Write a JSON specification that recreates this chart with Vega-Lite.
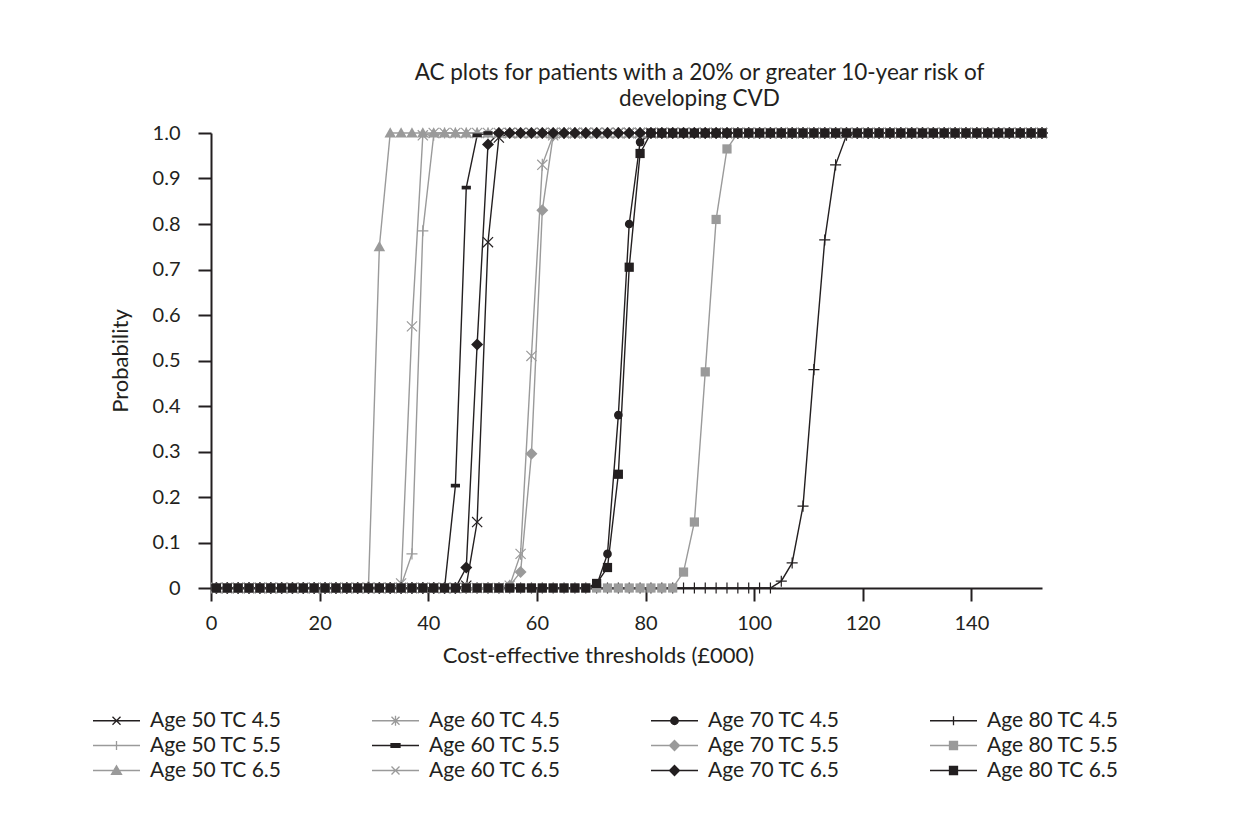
{
  "$schema": "https://vega.github.io/schema/vega-lite/v6.json",
  "autosize": "none",
  "width": 831,
  "height": 455,
  "padding": {"left": 211, "top": 133, "right": 217, "bottom": 229},
  "background": "white",
  "title": {
    "text": ["AC plots for patients with a 20% or greater 10-year risk of", "developing CVD"],
    "fontSize": 22.5,
    "fontWeight": "normal",
    "font": "Lato",
    "color": "#231f20",
    "anchor": "middle",
    "dx": 73,
    "offset": 13,
    "lineHeight": 26
  },
  "config": {
    "font": "Lato",
    "view": {"stroke": null},
    "axis": {
      "domainColor": "#231f20",
      "domainWidth": 2,
      "tickColor": "#231f20",
      "tickWidth": 2,
      "tickSize": 13,
      "grid": false,
      "labelFont": "Lato",
      "labelFontSize": 20,
      "labelColor": "#231f20",
      "titleFont": "Lato",
      "titleFontSize": 22,
      "titleFontWeight": "normal",
      "titleColor": "#231f20"
    },
    "legend": {
      "labelFont": "Lato",
      "labelFontSize": 21,
      "labelColor": "#231f20"
    }
  },
  "data": {
    "values": [
{"s":1,"x":1,"y":0},{"s":1,"x":3,"y":0},{"s":1,"x":5,"y":0},{"s":1,"x":7,"y":0},{"s":1,"x":9,"y":0},{"s":1,"x":11,"y":0},{"s":1,"x":13,"y":0},{"s":1,"x":15,"y":0},{"s":1,"x":17,"y":0},{"s":1,"x":19,"y":0},{"s":1,"x":21,"y":0},{"s":1,"x":23,"y":0},{"s":1,"x":25,"y":0},{"s":1,"x":27,"y":0},{"s":1,"x":29,"y":0},{"s":1,"x":31,"y":0},{"s":1,"x":33,"y":0},{"s":1,"x":35,"y":0},{"s":1,"x":37,"y":0},{"s":1,"x":39,"y":0},{"s":1,"x":41,"y":0},{"s":1,"x":43,"y":0},{"s":1,"x":45,"y":0},{"s":1,"x":47,"y":0.005},{"s":1,"x":49,"y":0.145},{"s":1,"x":51,"y":0.76},{"s":1,"x":53,"y":0.99},{"s":1,"x":55,"y":1},{"s":1,"x":57,"y":1},{"s":1,"x":59,"y":1},{"s":1,"x":61,"y":1},{"s":1,"x":63,"y":1},{"s":1,"x":65,"y":1},{"s":1,"x":67,"y":1},{"s":1,"x":69,"y":1},{"s":1,"x":71,"y":1},{"s":1,"x":73,"y":1},{"s":1,"x":75,"y":1},{"s":1,"x":77,"y":1},{"s":1,"x":79,"y":1},{"s":1,"x":81,"y":1},{"s":1,"x":83,"y":1},{"s":1,"x":85,"y":1},{"s":1,"x":87,"y":1},{"s":1,"x":89,"y":1},{"s":1,"x":91,"y":1},{"s":1,"x":93,"y":1},{"s":1,"x":95,"y":1},{"s":1,"x":97,"y":1},{"s":1,"x":99,"y":1},{"s":1,"x":101,"y":1},{"s":1,"x":103,"y":1},{"s":1,"x":105,"y":1},{"s":1,"x":107,"y":1},{"s":1,"x":109,"y":1},{"s":1,"x":111,"y":1},{"s":1,"x":113,"y":1},{"s":1,"x":115,"y":1},{"s":1,"x":117,"y":1},{"s":1,"x":119,"y":1},{"s":1,"x":121,"y":1},{"s":1,"x":123,"y":1},{"s":1,"x":125,"y":1},{"s":1,"x":127,"y":1},{"s":1,"x":129,"y":1},{"s":1,"x":131,"y":1},{"s":1,"x":133,"y":1},{"s":1,"x":135,"y":1},{"s":1,"x":137,"y":1},{"s":1,"x":139,"y":1},{"s":1,"x":141,"y":1},{"s":1,"x":143,"y":1},{"s":1,"x":145,"y":1},{"s":1,"x":147,"y":1},{"s":1,"x":149,"y":1},{"s":1,"x":151,"y":1},{"s":1,"x":153,"y":1},
{"s":2,"x":1,"y":0},{"s":2,"x":3,"y":0},{"s":2,"x":5,"y":0},{"s":2,"x":7,"y":0},{"s":2,"x":9,"y":0},{"s":2,"x":11,"y":0},{"s":2,"x":13,"y":0},{"s":2,"x":15,"y":0},{"s":2,"x":17,"y":0},{"s":2,"x":19,"y":0},{"s":2,"x":21,"y":0},{"s":2,"x":23,"y":0},{"s":2,"x":25,"y":0},{"s":2,"x":27,"y":0},{"s":2,"x":29,"y":0},{"s":2,"x":31,"y":0},{"s":2,"x":33,"y":0},{"s":2,"x":35,"y":0.005},{"s":2,"x":37,"y":0.075},{"s":2,"x":39,"y":0.785},{"s":2,"x":41,"y":0.995},{"s":2,"x":43,"y":1},{"s":2,"x":45,"y":1},{"s":2,"x":47,"y":1},{"s":2,"x":49,"y":1},{"s":2,"x":51,"y":1},{"s":2,"x":53,"y":1},{"s":2,"x":55,"y":1},{"s":2,"x":57,"y":1},{"s":2,"x":59,"y":1},{"s":2,"x":61,"y":1},{"s":2,"x":63,"y":1},{"s":2,"x":65,"y":1},{"s":2,"x":67,"y":1},{"s":2,"x":69,"y":1},{"s":2,"x":71,"y":1},{"s":2,"x":73,"y":1},{"s":2,"x":75,"y":1},{"s":2,"x":77,"y":1},{"s":2,"x":79,"y":1},{"s":2,"x":81,"y":1},{"s":2,"x":83,"y":1},{"s":2,"x":85,"y":1},{"s":2,"x":87,"y":1},{"s":2,"x":89,"y":1},{"s":2,"x":91,"y":1},{"s":2,"x":93,"y":1},{"s":2,"x":95,"y":1},{"s":2,"x":97,"y":1},{"s":2,"x":99,"y":1},{"s":2,"x":101,"y":1},{"s":2,"x":103,"y":1},{"s":2,"x":105,"y":1},{"s":2,"x":107,"y":1},{"s":2,"x":109,"y":1},{"s":2,"x":111,"y":1},{"s":2,"x":113,"y":1},{"s":2,"x":115,"y":1},{"s":2,"x":117,"y":1},{"s":2,"x":119,"y":1},{"s":2,"x":121,"y":1},{"s":2,"x":123,"y":1},{"s":2,"x":125,"y":1},{"s":2,"x":127,"y":1},{"s":2,"x":129,"y":1},{"s":2,"x":131,"y":1},{"s":2,"x":133,"y":1},{"s":2,"x":135,"y":1},{"s":2,"x":137,"y":1},{"s":2,"x":139,"y":1},{"s":2,"x":141,"y":1},{"s":2,"x":143,"y":1},{"s":2,"x":145,"y":1},{"s":2,"x":147,"y":1},{"s":2,"x":149,"y":1},{"s":2,"x":151,"y":1},{"s":2,"x":153,"y":1},
{"s":3,"x":1,"y":0},{"s":3,"x":3,"y":0},{"s":3,"x":5,"y":0},{"s":3,"x":7,"y":0},{"s":3,"x":9,"y":0},{"s":3,"x":11,"y":0},{"s":3,"x":13,"y":0},{"s":3,"x":15,"y":0},{"s":3,"x":17,"y":0},{"s":3,"x":19,"y":0},{"s":3,"x":21,"y":0},{"s":3,"x":23,"y":0},{"s":3,"x":25,"y":0},{"s":3,"x":27,"y":0},{"s":3,"x":29,"y":0.005},{"s":3,"x":31,"y":0.75},{"s":3,"x":33,"y":1},{"s":3,"x":35,"y":1},{"s":3,"x":37,"y":1},{"s":3,"x":39,"y":1},{"s":3,"x":41,"y":1},{"s":3,"x":43,"y":1},{"s":3,"x":45,"y":1},{"s":3,"x":47,"y":1},{"s":3,"x":49,"y":1},{"s":3,"x":51,"y":1},{"s":3,"x":53,"y":1},{"s":3,"x":55,"y":1},{"s":3,"x":57,"y":1},{"s":3,"x":59,"y":1},{"s":3,"x":61,"y":1},{"s":3,"x":63,"y":1},{"s":3,"x":65,"y":1},{"s":3,"x":67,"y":1},{"s":3,"x":69,"y":1},{"s":3,"x":71,"y":1},{"s":3,"x":73,"y":1},{"s":3,"x":75,"y":1},{"s":3,"x":77,"y":1},{"s":3,"x":79,"y":1},{"s":3,"x":81,"y":1},{"s":3,"x":83,"y":1},{"s":3,"x":85,"y":1},{"s":3,"x":87,"y":1},{"s":3,"x":89,"y":1},{"s":3,"x":91,"y":1},{"s":3,"x":93,"y":1},{"s":3,"x":95,"y":1},{"s":3,"x":97,"y":1},{"s":3,"x":99,"y":1},{"s":3,"x":101,"y":1},{"s":3,"x":103,"y":1},{"s":3,"x":105,"y":1},{"s":3,"x":107,"y":1},{"s":3,"x":109,"y":1},{"s":3,"x":111,"y":1},{"s":3,"x":113,"y":1},{"s":3,"x":115,"y":1},{"s":3,"x":117,"y":1},{"s":3,"x":119,"y":1},{"s":3,"x":121,"y":1},{"s":3,"x":123,"y":1},{"s":3,"x":125,"y":1},{"s":3,"x":127,"y":1},{"s":3,"x":129,"y":1},{"s":3,"x":131,"y":1},{"s":3,"x":133,"y":1},{"s":3,"x":135,"y":1},{"s":3,"x":137,"y":1},{"s":3,"x":139,"y":1},{"s":3,"x":141,"y":1},{"s":3,"x":143,"y":1},{"s":3,"x":145,"y":1},{"s":3,"x":147,"y":1},{"s":3,"x":149,"y":1},{"s":3,"x":151,"y":1},{"s":3,"x":153,"y":1},
{"s":4,"x":1,"y":0},{"s":4,"x":3,"y":0},{"s":4,"x":5,"y":0},{"s":4,"x":7,"y":0},{"s":4,"x":9,"y":0},{"s":4,"x":11,"y":0},{"s":4,"x":13,"y":0},{"s":4,"x":15,"y":0},{"s":4,"x":17,"y":0},{"s":4,"x":19,"y":0},{"s":4,"x":21,"y":0},{"s":4,"x":23,"y":0},{"s":4,"x":25,"y":0},{"s":4,"x":27,"y":0},{"s":4,"x":29,"y":0},{"s":4,"x":31,"y":0},{"s":4,"x":33,"y":0},{"s":4,"x":35,"y":0},{"s":4,"x":37,"y":0},{"s":4,"x":39,"y":0},{"s":4,"x":41,"y":0},{"s":4,"x":43,"y":0},{"s":4,"x":45,"y":0},{"s":4,"x":47,"y":0},{"s":4,"x":49,"y":0},{"s":4,"x":51,"y":0},{"s":4,"x":53,"y":0},{"s":4,"x":55,"y":0.005},{"s":4,"x":57,"y":0.075},{"s":4,"x":59,"y":0.51},{"s":4,"x":61,"y":0.93},{"s":4,"x":63,"y":0.995},{"s":4,"x":65,"y":1},{"s":4,"x":67,"y":1},{"s":4,"x":69,"y":1},{"s":4,"x":71,"y":1},{"s":4,"x":73,"y":1},{"s":4,"x":75,"y":1},{"s":4,"x":77,"y":1},{"s":4,"x":79,"y":1},{"s":4,"x":81,"y":1},{"s":4,"x":83,"y":1},{"s":4,"x":85,"y":1},{"s":4,"x":87,"y":1},{"s":4,"x":89,"y":1},{"s":4,"x":91,"y":1},{"s":4,"x":93,"y":1},{"s":4,"x":95,"y":1},{"s":4,"x":97,"y":1},{"s":4,"x":99,"y":1},{"s":4,"x":101,"y":1},{"s":4,"x":103,"y":1},{"s":4,"x":105,"y":1},{"s":4,"x":107,"y":1},{"s":4,"x":109,"y":1},{"s":4,"x":111,"y":1},{"s":4,"x":113,"y":1},{"s":4,"x":115,"y":1},{"s":4,"x":117,"y":1},{"s":4,"x":119,"y":1},{"s":4,"x":121,"y":1},{"s":4,"x":123,"y":1},{"s":4,"x":125,"y":1},{"s":4,"x":127,"y":1},{"s":4,"x":129,"y":1},{"s":4,"x":131,"y":1},{"s":4,"x":133,"y":1},{"s":4,"x":135,"y":1},{"s":4,"x":137,"y":1},{"s":4,"x":139,"y":1},{"s":4,"x":141,"y":1},{"s":4,"x":143,"y":1},{"s":4,"x":145,"y":1},{"s":4,"x":147,"y":1},{"s":4,"x":149,"y":1},{"s":4,"x":151,"y":1},{"s":4,"x":153,"y":1},
{"s":5,"x":1,"y":0},{"s":5,"x":3,"y":0},{"s":5,"x":5,"y":0},{"s":5,"x":7,"y":0},{"s":5,"x":9,"y":0},{"s":5,"x":11,"y":0},{"s":5,"x":13,"y":0},{"s":5,"x":15,"y":0},{"s":5,"x":17,"y":0},{"s":5,"x":19,"y":0},{"s":5,"x":21,"y":0},{"s":5,"x":23,"y":0},{"s":5,"x":25,"y":0},{"s":5,"x":27,"y":0},{"s":5,"x":29,"y":0},{"s":5,"x":31,"y":0},{"s":5,"x":33,"y":0},{"s":5,"x":35,"y":0},{"s":5,"x":37,"y":0},{"s":5,"x":39,"y":0},{"s":5,"x":41,"y":0},{"s":5,"x":43,"y":0},{"s":5,"x":45,"y":0.225},{"s":5,"x":47,"y":0.88},{"s":5,"x":49,"y":0.995},{"s":5,"x":51,"y":1},{"s":5,"x":53,"y":1},{"s":5,"x":55,"y":1},{"s":5,"x":57,"y":1},{"s":5,"x":59,"y":1},{"s":5,"x":61,"y":1},{"s":5,"x":63,"y":1},{"s":5,"x":65,"y":1},{"s":5,"x":67,"y":1},{"s":5,"x":69,"y":1},{"s":5,"x":71,"y":1},{"s":5,"x":73,"y":1},{"s":5,"x":75,"y":1},{"s":5,"x":77,"y":1},{"s":5,"x":79,"y":1},{"s":5,"x":81,"y":1},{"s":5,"x":83,"y":1},{"s":5,"x":85,"y":1},{"s":5,"x":87,"y":1},{"s":5,"x":89,"y":1},{"s":5,"x":91,"y":1},{"s":5,"x":93,"y":1},{"s":5,"x":95,"y":1},{"s":5,"x":97,"y":1},{"s":5,"x":99,"y":1},{"s":5,"x":101,"y":1},{"s":5,"x":103,"y":1},{"s":5,"x":105,"y":1},{"s":5,"x":107,"y":1},{"s":5,"x":109,"y":1},{"s":5,"x":111,"y":1},{"s":5,"x":113,"y":1},{"s":5,"x":115,"y":1},{"s":5,"x":117,"y":1},{"s":5,"x":119,"y":1},{"s":5,"x":121,"y":1},{"s":5,"x":123,"y":1},{"s":5,"x":125,"y":1},{"s":5,"x":127,"y":1},{"s":5,"x":129,"y":1},{"s":5,"x":131,"y":1},{"s":5,"x":133,"y":1},{"s":5,"x":135,"y":1},{"s":5,"x":137,"y":1},{"s":5,"x":139,"y":1},{"s":5,"x":141,"y":1},{"s":5,"x":143,"y":1},{"s":5,"x":145,"y":1},{"s":5,"x":147,"y":1},{"s":5,"x":149,"y":1},{"s":5,"x":151,"y":1},{"s":5,"x":153,"y":1},
{"s":6,"x":1,"y":0},{"s":6,"x":3,"y":0},{"s":6,"x":5,"y":0},{"s":6,"x":7,"y":0},{"s":6,"x":9,"y":0},{"s":6,"x":11,"y":0},{"s":6,"x":13,"y":0},{"s":6,"x":15,"y":0},{"s":6,"x":17,"y":0},{"s":6,"x":19,"y":0},{"s":6,"x":21,"y":0},{"s":6,"x":23,"y":0},{"s":6,"x":25,"y":0},{"s":6,"x":27,"y":0},{"s":6,"x":29,"y":0},{"s":6,"x":31,"y":0},{"s":6,"x":33,"y":0},{"s":6,"x":35,"y":0.01},{"s":6,"x":37,"y":0.575},{"s":6,"x":39,"y":0.995},{"s":6,"x":41,"y":1},{"s":6,"x":43,"y":1},{"s":6,"x":45,"y":1},{"s":6,"x":47,"y":1},{"s":6,"x":49,"y":1},{"s":6,"x":51,"y":1},{"s":6,"x":53,"y":1},{"s":6,"x":55,"y":1},{"s":6,"x":57,"y":1},{"s":6,"x":59,"y":1},{"s":6,"x":61,"y":1},{"s":6,"x":63,"y":1},{"s":6,"x":65,"y":1},{"s":6,"x":67,"y":1},{"s":6,"x":69,"y":1},{"s":6,"x":71,"y":1},{"s":6,"x":73,"y":1},{"s":6,"x":75,"y":1},{"s":6,"x":77,"y":1},{"s":6,"x":79,"y":1},{"s":6,"x":81,"y":1},{"s":6,"x":83,"y":1},{"s":6,"x":85,"y":1},{"s":6,"x":87,"y":1},{"s":6,"x":89,"y":1},{"s":6,"x":91,"y":1},{"s":6,"x":93,"y":1},{"s":6,"x":95,"y":1},{"s":6,"x":97,"y":1},{"s":6,"x":99,"y":1},{"s":6,"x":101,"y":1},{"s":6,"x":103,"y":1},{"s":6,"x":105,"y":1},{"s":6,"x":107,"y":1},{"s":6,"x":109,"y":1},{"s":6,"x":111,"y":1},{"s":6,"x":113,"y":1},{"s":6,"x":115,"y":1},{"s":6,"x":117,"y":1},{"s":6,"x":119,"y":1},{"s":6,"x":121,"y":1},{"s":6,"x":123,"y":1},{"s":6,"x":125,"y":1},{"s":6,"x":127,"y":1},{"s":6,"x":129,"y":1},{"s":6,"x":131,"y":1},{"s":6,"x":133,"y":1},{"s":6,"x":135,"y":1},{"s":6,"x":137,"y":1},{"s":6,"x":139,"y":1},{"s":6,"x":141,"y":1},{"s":6,"x":143,"y":1},{"s":6,"x":145,"y":1},{"s":6,"x":147,"y":1},{"s":6,"x":149,"y":1},{"s":6,"x":151,"y":1},{"s":6,"x":153,"y":1},
{"s":7,"x":1,"y":0},{"s":7,"x":3,"y":0},{"s":7,"x":5,"y":0},{"s":7,"x":7,"y":0},{"s":7,"x":9,"y":0},{"s":7,"x":11,"y":0},{"s":7,"x":13,"y":0},{"s":7,"x":15,"y":0},{"s":7,"x":17,"y":0},{"s":7,"x":19,"y":0},{"s":7,"x":21,"y":0},{"s":7,"x":23,"y":0},{"s":7,"x":25,"y":0},{"s":7,"x":27,"y":0},{"s":7,"x":29,"y":0},{"s":7,"x":31,"y":0},{"s":7,"x":33,"y":0},{"s":7,"x":35,"y":0},{"s":7,"x":37,"y":0},{"s":7,"x":39,"y":0},{"s":7,"x":41,"y":0},{"s":7,"x":43,"y":0},{"s":7,"x":45,"y":0},{"s":7,"x":47,"y":0},{"s":7,"x":49,"y":0},{"s":7,"x":51,"y":0},{"s":7,"x":53,"y":0},{"s":7,"x":55,"y":0},{"s":7,"x":57,"y":0},{"s":7,"x":59,"y":0},{"s":7,"x":61,"y":0},{"s":7,"x":63,"y":0},{"s":7,"x":65,"y":0},{"s":7,"x":67,"y":0},{"s":7,"x":69,"y":0},{"s":7,"x":71,"y":0.005},{"s":7,"x":73,"y":0.075},{"s":7,"x":75,"y":0.38},{"s":7,"x":77,"y":0.8},{"s":7,"x":79,"y":0.98},{"s":7,"x":81,"y":1},{"s":7,"x":83,"y":1},{"s":7,"x":85,"y":1},{"s":7,"x":87,"y":1},{"s":7,"x":89,"y":1},{"s":7,"x":91,"y":1},{"s":7,"x":93,"y":1},{"s":7,"x":95,"y":1},{"s":7,"x":97,"y":1},{"s":7,"x":99,"y":1},{"s":7,"x":101,"y":1},{"s":7,"x":103,"y":1},{"s":7,"x":105,"y":1},{"s":7,"x":107,"y":1},{"s":7,"x":109,"y":1},{"s":7,"x":111,"y":1},{"s":7,"x":113,"y":1},{"s":7,"x":115,"y":1},{"s":7,"x":117,"y":1},{"s":7,"x":119,"y":1},{"s":7,"x":121,"y":1},{"s":7,"x":123,"y":1},{"s":7,"x":125,"y":1},{"s":7,"x":127,"y":1},{"s":7,"x":129,"y":1},{"s":7,"x":131,"y":1},{"s":7,"x":133,"y":1},{"s":7,"x":135,"y":1},{"s":7,"x":137,"y":1},{"s":7,"x":139,"y":1},{"s":7,"x":141,"y":1},{"s":7,"x":143,"y":1},{"s":7,"x":145,"y":1},{"s":7,"x":147,"y":1},{"s":7,"x":149,"y":1},{"s":7,"x":151,"y":1},{"s":7,"x":153,"y":1},
{"s":8,"x":1,"y":0},{"s":8,"x":3,"y":0},{"s":8,"x":5,"y":0},{"s":8,"x":7,"y":0},{"s":8,"x":9,"y":0},{"s":8,"x":11,"y":0},{"s":8,"x":13,"y":0},{"s":8,"x":15,"y":0},{"s":8,"x":17,"y":0},{"s":8,"x":19,"y":0},{"s":8,"x":21,"y":0},{"s":8,"x":23,"y":0},{"s":8,"x":25,"y":0},{"s":8,"x":27,"y":0},{"s":8,"x":29,"y":0},{"s":8,"x":31,"y":0},{"s":8,"x":33,"y":0},{"s":8,"x":35,"y":0},{"s":8,"x":37,"y":0},{"s":8,"x":39,"y":0},{"s":8,"x":41,"y":0},{"s":8,"x":43,"y":0},{"s":8,"x":45,"y":0},{"s":8,"x":47,"y":0},{"s":8,"x":49,"y":0},{"s":8,"x":51,"y":0},{"s":8,"x":53,"y":0},{"s":8,"x":55,"y":0.005},{"s":8,"x":57,"y":0.035},{"s":8,"x":59,"y":0.295},{"s":8,"x":61,"y":0.83},{"s":8,"x":63,"y":0.995},{"s":8,"x":65,"y":1},{"s":8,"x":67,"y":1},{"s":8,"x":69,"y":1},{"s":8,"x":71,"y":1},{"s":8,"x":73,"y":1},{"s":8,"x":75,"y":1},{"s":8,"x":77,"y":1},{"s":8,"x":79,"y":1},{"s":8,"x":81,"y":1},{"s":8,"x":83,"y":1},{"s":8,"x":85,"y":1},{"s":8,"x":87,"y":1},{"s":8,"x":89,"y":1},{"s":8,"x":91,"y":1},{"s":8,"x":93,"y":1},{"s":8,"x":95,"y":1},{"s":8,"x":97,"y":1},{"s":8,"x":99,"y":1},{"s":8,"x":101,"y":1},{"s":8,"x":103,"y":1},{"s":8,"x":105,"y":1},{"s":8,"x":107,"y":1},{"s":8,"x":109,"y":1},{"s":8,"x":111,"y":1},{"s":8,"x":113,"y":1},{"s":8,"x":115,"y":1},{"s":8,"x":117,"y":1},{"s":8,"x":119,"y":1},{"s":8,"x":121,"y":1},{"s":8,"x":123,"y":1},{"s":8,"x":125,"y":1},{"s":8,"x":127,"y":1},{"s":8,"x":129,"y":1},{"s":8,"x":131,"y":1},{"s":8,"x":133,"y":1},{"s":8,"x":135,"y":1},{"s":8,"x":137,"y":1},{"s":8,"x":139,"y":1},{"s":8,"x":141,"y":1},{"s":8,"x":143,"y":1},{"s":8,"x":145,"y":1},{"s":8,"x":147,"y":1},{"s":8,"x":149,"y":1},{"s":8,"x":151,"y":1},{"s":8,"x":153,"y":1},
{"s":9,"x":1,"y":0},{"s":9,"x":3,"y":0},{"s":9,"x":5,"y":0},{"s":9,"x":7,"y":0},{"s":9,"x":9,"y":0},{"s":9,"x":11,"y":0},{"s":9,"x":13,"y":0},{"s":9,"x":15,"y":0},{"s":9,"x":17,"y":0},{"s":9,"x":19,"y":0},{"s":9,"x":21,"y":0},{"s":9,"x":23,"y":0},{"s":9,"x":25,"y":0},{"s":9,"x":27,"y":0},{"s":9,"x":29,"y":0},{"s":9,"x":31,"y":0},{"s":9,"x":33,"y":0},{"s":9,"x":35,"y":0},{"s":9,"x":37,"y":0},{"s":9,"x":39,"y":0},{"s":9,"x":41,"y":0},{"s":9,"x":43,"y":0},{"s":9,"x":45,"y":0},{"s":9,"x":47,"y":0.045},{"s":9,"x":49,"y":0.535},{"s":9,"x":51,"y":0.975},{"s":9,"x":53,"y":1},{"s":9,"x":55,"y":1},{"s":9,"x":57,"y":1},{"s":9,"x":59,"y":1},{"s":9,"x":61,"y":1},{"s":9,"x":63,"y":1},{"s":9,"x":65,"y":1},{"s":9,"x":67,"y":1},{"s":9,"x":69,"y":1},{"s":9,"x":71,"y":1},{"s":9,"x":73,"y":1},{"s":9,"x":75,"y":1},{"s":9,"x":77,"y":1},{"s":9,"x":79,"y":1},{"s":9,"x":81,"y":1},{"s":9,"x":83,"y":1},{"s":9,"x":85,"y":1},{"s":9,"x":87,"y":1},{"s":9,"x":89,"y":1},{"s":9,"x":91,"y":1},{"s":9,"x":93,"y":1},{"s":9,"x":95,"y":1},{"s":9,"x":97,"y":1},{"s":9,"x":99,"y":1},{"s":9,"x":101,"y":1},{"s":9,"x":103,"y":1},{"s":9,"x":105,"y":1},{"s":9,"x":107,"y":1},{"s":9,"x":109,"y":1},{"s":9,"x":111,"y":1},{"s":9,"x":113,"y":1},{"s":9,"x":115,"y":1},{"s":9,"x":117,"y":1},{"s":9,"x":119,"y":1},{"s":9,"x":121,"y":1},{"s":9,"x":123,"y":1},{"s":9,"x":125,"y":1},{"s":9,"x":127,"y":1},{"s":9,"x":129,"y":1},{"s":9,"x":131,"y":1},{"s":9,"x":133,"y":1},{"s":9,"x":135,"y":1},{"s":9,"x":137,"y":1},{"s":9,"x":139,"y":1},{"s":9,"x":141,"y":1},{"s":9,"x":143,"y":1},{"s":9,"x":145,"y":1},{"s":9,"x":147,"y":1},{"s":9,"x":149,"y":1},{"s":9,"x":151,"y":1},{"s":9,"x":153,"y":1},
{"s":10,"x":1,"y":0},{"s":10,"x":3,"y":0},{"s":10,"x":5,"y":0},{"s":10,"x":7,"y":0},{"s":10,"x":9,"y":0},{"s":10,"x":11,"y":0},{"s":10,"x":13,"y":0},{"s":10,"x":15,"y":0},{"s":10,"x":17,"y":0},{"s":10,"x":19,"y":0},{"s":10,"x":21,"y":0},{"s":10,"x":23,"y":0},{"s":10,"x":25,"y":0},{"s":10,"x":27,"y":0},{"s":10,"x":29,"y":0},{"s":10,"x":31,"y":0},{"s":10,"x":33,"y":0},{"s":10,"x":35,"y":0},{"s":10,"x":37,"y":0},{"s":10,"x":39,"y":0},{"s":10,"x":41,"y":0},{"s":10,"x":43,"y":0},{"s":10,"x":45,"y":0},{"s":10,"x":47,"y":0},{"s":10,"x":49,"y":0},{"s":10,"x":51,"y":0},{"s":10,"x":53,"y":0},{"s":10,"x":55,"y":0},{"s":10,"x":57,"y":0},{"s":10,"x":59,"y":0},{"s":10,"x":61,"y":0},{"s":10,"x":63,"y":0},{"s":10,"x":65,"y":0},{"s":10,"x":67,"y":0},{"s":10,"x":69,"y":0},{"s":10,"x":71,"y":0},{"s":10,"x":73,"y":0},{"s":10,"x":75,"y":0},{"s":10,"x":77,"y":0},{"s":10,"x":79,"y":0},{"s":10,"x":81,"y":0},{"s":10,"x":83,"y":0},{"s":10,"x":85,"y":0},{"s":10,"x":87,"y":0},{"s":10,"x":89,"y":0},{"s":10,"x":91,"y":0},{"s":10,"x":93,"y":0},{"s":10,"x":95,"y":0},{"s":10,"x":97,"y":0},{"s":10,"x":99,"y":0},{"s":10,"x":101,"y":0},{"s":10,"x":103,"y":0},{"s":10,"x":105,"y":0.015},{"s":10,"x":107,"y":0.055},{"s":10,"x":109,"y":0.18},{"s":10,"x":111,"y":0.48},{"s":10,"x":113,"y":0.765},{"s":10,"x":115,"y":0.93},{"s":10,"x":117,"y":0.995},{"s":10,"x":119,"y":1},{"s":10,"x":121,"y":1},{"s":10,"x":123,"y":1},{"s":10,"x":125,"y":1},{"s":10,"x":127,"y":1},{"s":10,"x":129,"y":1},{"s":10,"x":131,"y":1},{"s":10,"x":133,"y":1},{"s":10,"x":135,"y":1},{"s":10,"x":137,"y":1},{"s":10,"x":139,"y":1},{"s":10,"x":141,"y":1},{"s":10,"x":143,"y":1},{"s":10,"x":145,"y":1},{"s":10,"x":147,"y":1},{"s":10,"x":149,"y":1},{"s":10,"x":151,"y":1},{"s":10,"x":153,"y":1},
{"s":11,"x":1,"y":0},{"s":11,"x":3,"y":0},{"s":11,"x":5,"y":0},{"s":11,"x":7,"y":0},{"s":11,"x":9,"y":0},{"s":11,"x":11,"y":0},{"s":11,"x":13,"y":0},{"s":11,"x":15,"y":0},{"s":11,"x":17,"y":0},{"s":11,"x":19,"y":0},{"s":11,"x":21,"y":0},{"s":11,"x":23,"y":0},{"s":11,"x":25,"y":0},{"s":11,"x":27,"y":0},{"s":11,"x":29,"y":0},{"s":11,"x":31,"y":0},{"s":11,"x":33,"y":0},{"s":11,"x":35,"y":0},{"s":11,"x":37,"y":0},{"s":11,"x":39,"y":0},{"s":11,"x":41,"y":0},{"s":11,"x":43,"y":0},{"s":11,"x":45,"y":0},{"s":11,"x":47,"y":0},{"s":11,"x":49,"y":0},{"s":11,"x":51,"y":0},{"s":11,"x":53,"y":0},{"s":11,"x":55,"y":0},{"s":11,"x":57,"y":0},{"s":11,"x":59,"y":0},{"s":11,"x":61,"y":0},{"s":11,"x":63,"y":0},{"s":11,"x":65,"y":0},{"s":11,"x":67,"y":0},{"s":11,"x":69,"y":0},{"s":11,"x":71,"y":0},{"s":11,"x":73,"y":0},{"s":11,"x":75,"y":0},{"s":11,"x":77,"y":0},{"s":11,"x":79,"y":0},{"s":11,"x":81,"y":0},{"s":11,"x":83,"y":0},{"s":11,"x":85,"y":0},{"s":11,"x":87,"y":0.035},{"s":11,"x":89,"y":0.145},{"s":11,"x":91,"y":0.475},{"s":11,"x":93,"y":0.81},{"s":11,"x":95,"y":0.965},{"s":11,"x":97,"y":1},{"s":11,"x":99,"y":1},{"s":11,"x":101,"y":1},{"s":11,"x":103,"y":1},{"s":11,"x":105,"y":1},{"s":11,"x":107,"y":1},{"s":11,"x":109,"y":1},{"s":11,"x":111,"y":1},{"s":11,"x":113,"y":1},{"s":11,"x":115,"y":1},{"s":11,"x":117,"y":1},{"s":11,"x":119,"y":1},{"s":11,"x":121,"y":1},{"s":11,"x":123,"y":1},{"s":11,"x":125,"y":1},{"s":11,"x":127,"y":1},{"s":11,"x":129,"y":1},{"s":11,"x":131,"y":1},{"s":11,"x":133,"y":1},{"s":11,"x":135,"y":1},{"s":11,"x":137,"y":1},{"s":11,"x":139,"y":1},{"s":11,"x":141,"y":1},{"s":11,"x":143,"y":1},{"s":11,"x":145,"y":1},{"s":11,"x":147,"y":1},{"s":11,"x":149,"y":1},{"s":11,"x":151,"y":1},{"s":11,"x":153,"y":1},
{"s":12,"x":1,"y":0},{"s":12,"x":3,"y":0},{"s":12,"x":5,"y":0},{"s":12,"x":7,"y":0},{"s":12,"x":9,"y":0},{"s":12,"x":11,"y":0},{"s":12,"x":13,"y":0},{"s":12,"x":15,"y":0},{"s":12,"x":17,"y":0},{"s":12,"x":19,"y":0},{"s":12,"x":21,"y":0},{"s":12,"x":23,"y":0},{"s":12,"x":25,"y":0},{"s":12,"x":27,"y":0},{"s":12,"x":29,"y":0},{"s":12,"x":31,"y":0},{"s":12,"x":33,"y":0},{"s":12,"x":35,"y":0},{"s":12,"x":37,"y":0},{"s":12,"x":39,"y":0},{"s":12,"x":41,"y":0},{"s":12,"x":43,"y":0},{"s":12,"x":45,"y":0},{"s":12,"x":47,"y":0},{"s":12,"x":49,"y":0},{"s":12,"x":51,"y":0},{"s":12,"x":53,"y":0},{"s":12,"x":55,"y":0},{"s":12,"x":57,"y":0},{"s":12,"x":59,"y":0},{"s":12,"x":61,"y":0},{"s":12,"x":63,"y":0},{"s":12,"x":65,"y":0},{"s":12,"x":67,"y":0},{"s":12,"x":69,"y":0},{"s":12,"x":71,"y":0.01},{"s":12,"x":73,"y":0.045},{"s":12,"x":75,"y":0.25},{"s":12,"x":77,"y":0.705},{"s":12,"x":79,"y":0.955},{"s":12,"x":81,"y":1},{"s":12,"x":83,"y":1},{"s":12,"x":85,"y":1},{"s":12,"x":87,"y":1},{"s":12,"x":89,"y":1},{"s":12,"x":91,"y":1},{"s":12,"x":93,"y":1},{"s":12,"x":95,"y":1},{"s":12,"x":97,"y":1},{"s":12,"x":99,"y":1},{"s":12,"x":101,"y":1},{"s":12,"x":103,"y":1},{"s":12,"x":105,"y":1},{"s":12,"x":107,"y":1},{"s":12,"x":109,"y":1},{"s":12,"x":111,"y":1},{"s":12,"x":113,"y":1},{"s":12,"x":115,"y":1},{"s":12,"x":117,"y":1},{"s":12,"x":119,"y":1},{"s":12,"x":121,"y":1},{"s":12,"x":123,"y":1},{"s":12,"x":125,"y":1},{"s":12,"x":127,"y":1},{"s":12,"x":129,"y":1},{"s":12,"x":131,"y":1},{"s":12,"x":133,"y":1},{"s":12,"x":135,"y":1},{"s":12,"x":137,"y":1},{"s":12,"x":139,"y":1},{"s":12,"x":141,"y":1},{"s":12,"x":143,"y":1},{"s":12,"x":145,"y":1},{"s":12,"x":147,"y":1},{"s":12,"x":149,"y":1},{"s":12,"x":151,"y":1},{"s":12,"x":153,"y":1}
    ]
  },
  "transform": [
    {
      "lookup": "s",
      "from": {
        "data": {
          "values": [
            {"s": 1, "name": "Age 50 TC 4.5"},
            {"s": 2, "name": "Age 50 TC 5.5"},
            {"s": 3, "name": "Age 50 TC 6.5"},
            {"s": 4, "name": "Age 60 TC 4.5"},
            {"s": 5, "name": "Age 60 TC 5.5"},
            {"s": 6, "name": "Age 60 TC 6.5"},
            {"s": 7, "name": "Age 70 TC 4.5"},
            {"s": 8, "name": "Age 70 TC 5.5"},
            {"s": 9, "name": "Age 70 TC 6.5"},
            {"s": 10, "name": "Age 80 TC 4.5"},
            {"s": 11, "name": "Age 80 TC 5.5"},
            {"s": 12, "name": "Age 80 TC 6.5"}
          ]
        },
        "key": "s",
        "fields": ["name"]
      }
    }
  ],
  "encoding": {
    "x": {
      "field": "x",
      "type": "quantitative",
      "scale": {"domain": [0, 153], "nice": false, "zero": false},
      "axis": {
        "title": "Cost-effective thresholds (£000)",
        "values": [0, 20, 40, 60, 80, 100, 120, 140],
        "labelPadding": 12,
        "titlePadding": 12,
        "titleX": 387,
        "titleAnchor": "middle",
        "labelFlush": false
      }
    },
    "y": {
      "field": "y",
      "type": "quantitative",
      "scale": {"domain": [0, 1], "nice": false},
      "axis": {
        "title": "Probability",
        "values": [0, 0.1, 0.2, 0.3, 0.4, 0.5, 0.6, 0.7, 0.8, 0.9, 1],
        "labelExpr": "datum.value == 0 ? '0' : format(datum.value, '.1f')",
        "labelPadding": 18,
        "titlePadding": 20,
        "labelFlush": false
      }
    },
    "color": {
      "field": "name",
      "type": "nominal",
      "scale": {
        "domain": ["Age 50 TC 4.5", "Age 60 TC 4.5", "Age 70 TC 4.5", "Age 80 TC 4.5", "Age 50 TC 5.5", "Age 60 TC 5.5", "Age 70 TC 5.5", "Age 80 TC 5.5", "Age 50 TC 6.5", "Age 60 TC 6.5", "Age 70 TC 6.5", "Age 80 TC 6.5"],
        "range": ["#231f20", "#9a9a9a", "#231f20", "#231f20", "#9a9a9a", "#231f20", "#9a9a9a", "#9a9a9a", "#9a9a9a", "#9a9a9a", "#231f20", "#231f20"]
      },
      "legend": {
        "title": null,
        "orient": "none",
        "legendX": -105,
        "legendY": 577,
        "columns": 4,
        "direction": "horizontal",
        "padding": 0,
        "rowPadding": 3,
        "columnPadding": 87,
        "labelOffset": 23,
        "symbolSize": 100,
        "symbolStrokeWidth": 1.3,
        "symbolOpacity": 1,
        "symbolFillColor": {"expr": "scale('color', datum.value)"},
        "symbolStrokeColor": {"expr": "scale('color', datum.value)"},
        "symbolType": {"expr": "['M-4.7,0H4.7M-0.8,-0.8L0.8,0.8M-0.8,0.8L0.8,-0.8', 'M-4.7,0H4.7M-0.8,-0.8L0.8,0.8M-0.8,0.8L0.8,-0.8M0,-1V1', 'M-4.7,0H4.7M0.75,0A0.75,0.75,0,1,1,-0.75,0A0.75,0.75,0,1,1,0.75,0Z', 'M-4.7,0H4.7M0,-0.9V0.9', 'M-4.7,0H4.7M0,-0.9V0.9', 'M-4.7,0H4.7M-0.9,-0.35H0.9V0.35H-0.9Z', 'M-4.7,0H4.7M0,-1L1,0L0,1L-1,0Z', 'M-4.7,0H4.7M-0.8,-0.8H0.8V0.8H-0.8Z', 'M-4.7,0H4.7M0,-0.95L1,0.75H-1Z', 'M-4.7,0H4.7M-0.8,-0.8L0.8,0.8M-0.8,0.8L0.8,-0.8', 'M-4.7,0H4.7M0,-1L1,0L0,1L-1,0Z', 'M-4.7,0H4.7M-0.8,-0.8H0.8V0.8H-0.8Z'][datum.index]"}
      }
    }
  },
  "layer": [
    {
      "mark": {"type": "line", "strokeWidth": 1.4},
      "encoding": {"detail": {"field": "s"}}
    },
    {
      "transform": [{"filter": {"field": "s", "oneOf": [1, 6]}}],
      "mark": {"type": "point", "filled": false, "size": 85, "opacity": 1, "strokeWidth": 1.2, "shape": "M-1.1,-1.1L1.1,1.1M-1.1,1.1L1.1,-1.1"}
    },
    {
      "transform": [{"filter": {"field": "s", "oneOf": [2, 10]}}],
      "mark": {"type": "point", "filled": false, "size": 85, "opacity": 1, "strokeWidth": 1.2, "shape": "M-1.2,0H1.2M0,-1.2V1.2"}
    },
    {
      "transform": [{"filter": {"field": "s", "oneOf": [3]}}],
      "mark": {"type": "point", "filled": true, "size": 85, "opacity": 1, "shape": "M0,-1.25L1.25,1L-1.25,1Z"}
    },
    {
      "transform": [{"filter": {"field": "s", "oneOf": [4]}}],
      "mark": {"type": "point", "filled": false, "size": 85, "opacity": 1, "strokeWidth": 1.2, "shape": "M-1.1,-1.1L1.1,1.1M-1.1,1.1L1.1,-1.1M0,-1.3V1.3"}
    },
    {
      "transform": [{"filter": {"field": "s", "oneOf": [5]}}],
      "mark": {"type": "point", "filled": true, "size": 85, "opacity": 1, "shape": "M-1,-0.4H1V0.4H-1Z"}
    },
    {
      "transform": [{"filter": {"field": "s", "oneOf": [7]}}],
      "mark": {"type": "point", "filled": true, "size": 75, "opacity": 1, "shape": "circle"}
    },
    {
      "transform": [{"filter": {"field": "s", "oneOf": [8, 9]}}],
      "mark": {"type": "point", "filled": true, "size": 85, "opacity": 1, "shape": "M0,-1.3L1.3,0L0,1.3L-1.3,0Z"}
    },
    {
      "transform": [{"filter": {"field": "s", "oneOf": [11, 12]}}],
      "mark": {"type": "point", "filled": true, "size": 85, "opacity": 1, "shape": "square"}
    }
  ]
}
